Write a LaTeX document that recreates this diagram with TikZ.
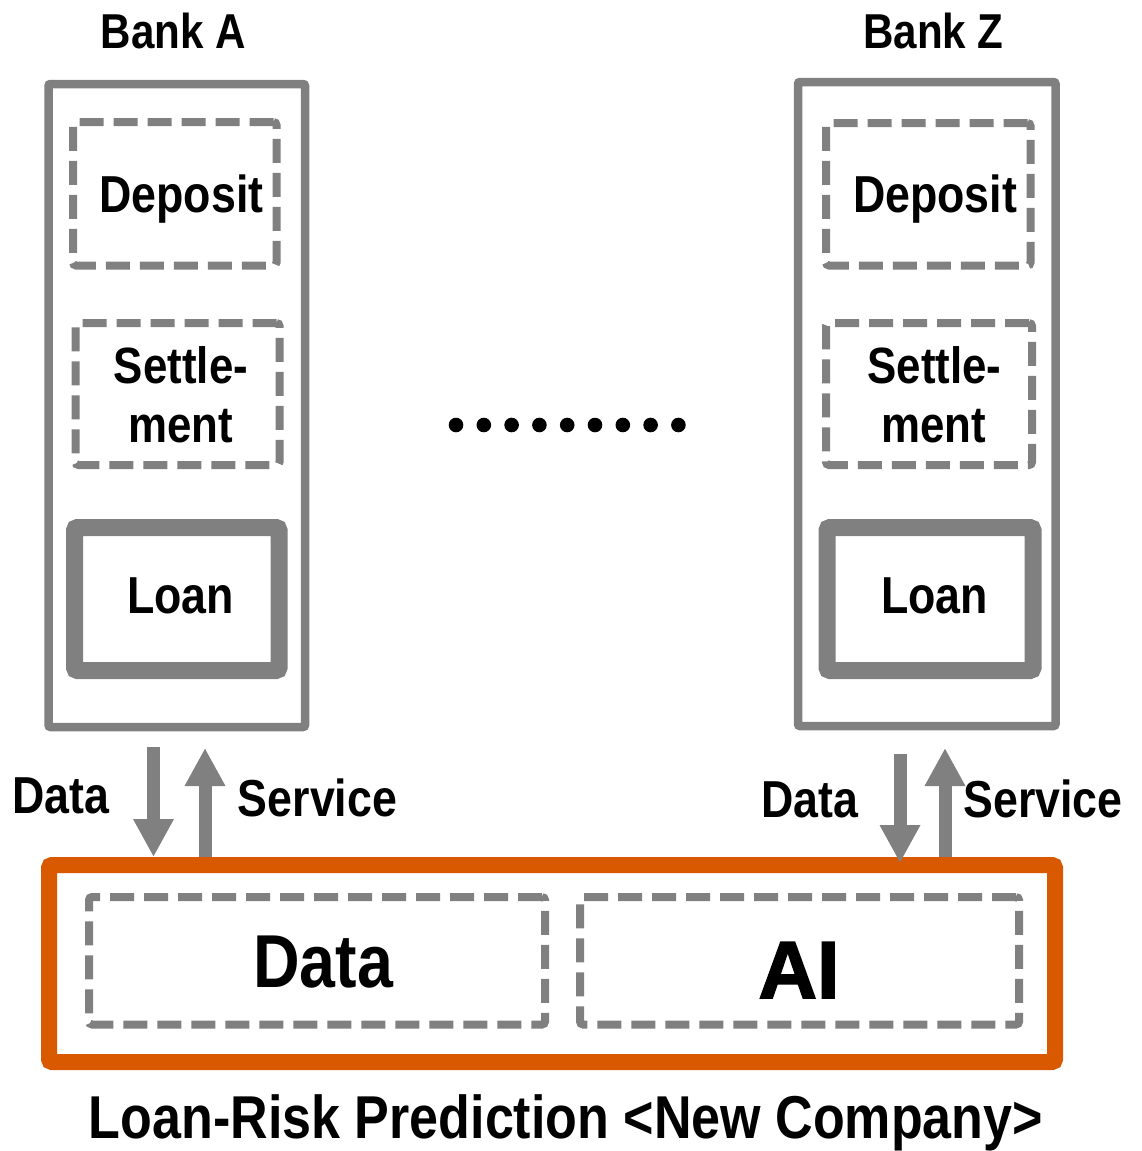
\documentclass[tikz,border=0pt]{standalone}
\usepackage{fontspec}
\setmainfont{Liberation Sans}[FakeStretch=0.86]
\newfontfamily\heavyfont{Liberation Sans}[FakeBold=2]
\usetikzlibrary{arrows.meta,calc}

\begin{document}
\begin{tikzpicture}[x=1pt, y=-1pt,
  bank/.style={draw=boxgrey, line width=8.5pt, rounded corners=2pt, inner sep=0pt},
  unit/.style={draw=boxgrey, line width=8pt, dash pattern=on 24pt off 10pt, rounded corners=3pt, inner sep=0pt},
  loanbox/.style={draw=boxgrey, line width=17pt, rounded corners=3pt, inner sep=0pt},
  firm/.style={draw=firmorange, line width=16pt, rounded corners=3pt, inner sep=0pt},
  txt/.style={anchor=base, inner sep=0pt, font=\bfseries\fontsize{#1}{#1}\selectfont},
  flow/.style={draw=boxgrey, line width=13pt, -{Triangle[width=38pt, length=38pt]}}]
\definecolor{boxgrey}{HTML}{808080}
\definecolor{firmorange}{HTML}{D95900}
\useasboundingbox (0,0) rectangle (1142,1151);

\node[bank, minimum width=256.5pt, minimum height=643pt] (bankA) at (176.75,405.5) {};
\node[unit, minimum width=203.5pt, minimum height=143.5pt] (depA) at (174.75,193.75) {};
\node[unit, minimum width=204pt, minimum height=142pt] (setA) at (177.5,394) {};
\node[loanbox, minimum width=204.5pt, minimum height=143pt] (loanA) at (176.75,599) {};
\node[txt=49] (bankAlbl) at (173.5,48) {Bank A};
\node[txt=52] (depAlbl) at (181.5,212) {Deposit};
\node[txt=51] (setAlbl) at (181,383) {Settle-};
\node[txt=51] (setAlbl2) at (180.5,442) {ment};
\node[txt=52] (loanAlbl) at (180.5,613) {Loan};

\node[bank, minimum width=257.5pt, minimum height=644pt] (bankZ) at (926.75,404) {};
\node[unit, minimum width=204.5pt, minimum height=142.5pt] (depZ) at (928.25,194.25) {};
\node[unit, minimum width=206pt, minimum height=142pt] (setZ) at (929,394) {};
\node[loanbox, minimum width=206pt, minimum height=143pt] (loanZ) at (930,599) {};
\node[txt=49] (bankZlbl) at (933.5,48) {Bank Z};
\node[txt=52] (depZlbl) at (935,212) {Deposit};
\node[txt=51] (setZlbl) at (934.5,383) {Settle-};
\node[txt=51] (setZlbl2) at (933.5,442) {ment};
\node[txt=52] (loanZlbl) at (934.5,613) {Loan};

\foreach \i in {0,...,8}
  \fill (456+27.8*\i,425) circle (7.3pt);

\node[firm, minimum width=1006pt, minimum height=197pt] (company) at (552,963.5) {};
\node[unit, minimum width=456pt, minimum height=127.5pt] (data) at (317,960.75) {};
\node[unit, minimum width=439pt, minimum height=127.5pt] (ai) at (799.5,960.75) {};
\node[txt=75] (datalbl) at (323,987) {Data};
\node[txt=81, font=\heavyfont\bfseries\fontsize{81}{81}\selectfont] (ailbl) at (799,998) {AI};
\node[txt=60.5] (companylbl) at (566,1138) {Loan-Risk Prediction <New Company>};

\coordinate (dataA) at (153.5,747);
\coordinate (servA) at (205,748);
\coordinate (dataZ) at (900,754);
\coordinate (servZ) at (945,748);
\draw[flow] (dataA) -- (dataA |- company.north);
\draw[flow] (servA |- company.north) -- (servA);
\draw[flow] (dataZ) -- ($(dataZ |- company.north)+(0,6)$);
\draw[flow] (servZ |- company.north) -- (servZ);
\node[txt=52] (dataAlbl) at (61,813) {Data};
\node[txt=52] (servAlbl) at (317.5,816) {Service};
\node[txt=52] (dataZlbl) at (810,817) {Data};
\node[txt=52] (servZlbl) at (1043,817) {Service};
\end{tikzpicture}
\end{document}
